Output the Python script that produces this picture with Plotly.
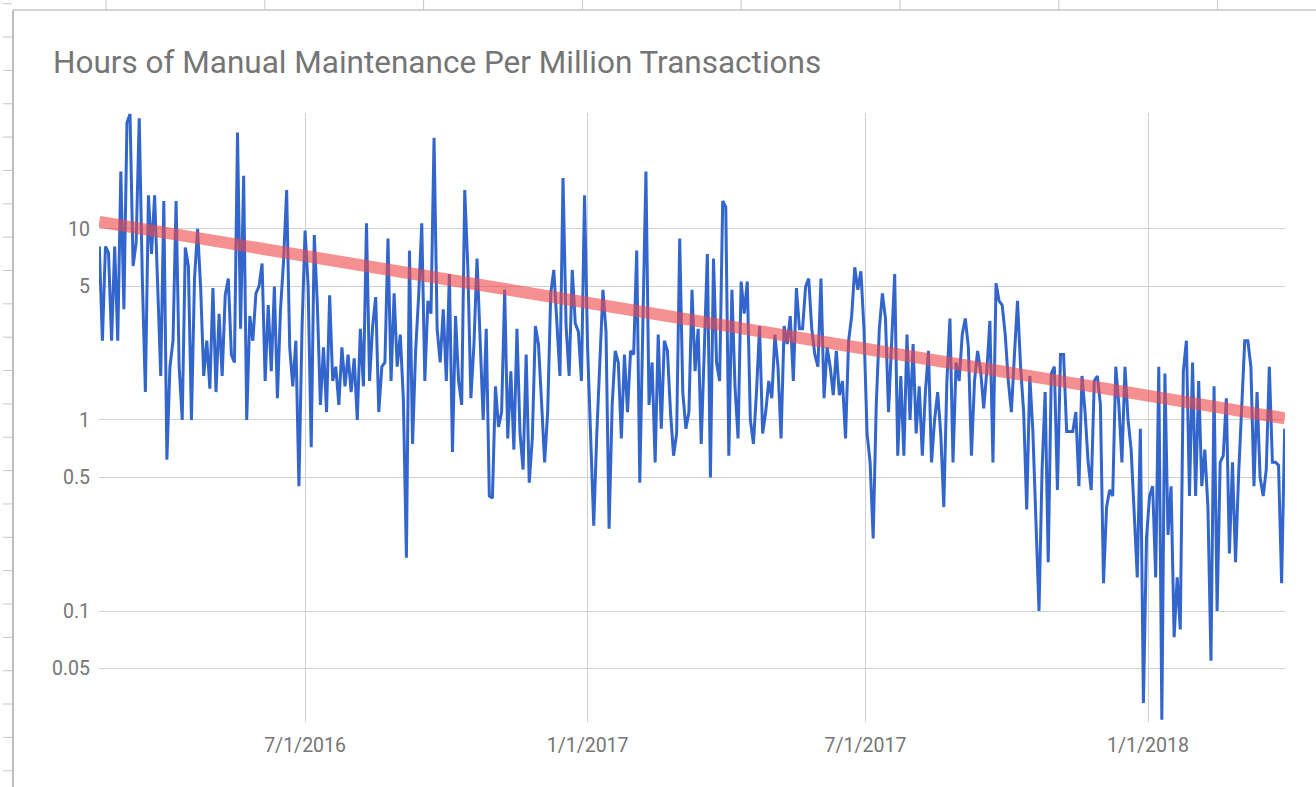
import pandas as pd
import plotly.graph_objects as go

# ---------------- data ----------------
start_date = "2016-02-18"
step = "2D"

hours_a = [8.1, 2.6, 8.1, 7.5, 2.6, 8.1, 2.6, 20, 3.8, 36, 40, 6.4, 8.5, 38, 5.5, 1.4, 15, 7.4, 15, 5.5,
           1.7, 14, 0.62, 1.9, 2.6, 14, 1.9, 1.0, 8.0, 6.4, 1.0, 5.5, 10, 4.9, 1.7, 2.6, 1.46, 4.9, 1.4, 3.6,
           1.7, 4.5]
hours_b = [5.5, 2.2, 2.0, 32, 3.0, 19, 1.0, 3.5, 2.6, 4.6, 5.0, 6.6, 1.6, 4.0, 1.8, 5.0, 1.3, 3.8, 6.8, 16,
           2.4, 1.5, 2.6, 0.45, 3.0, 9.8, 5.0, 0.72, 9.3, 4.0, 1.2, 2.4, 1.1, 4.5, 1.6, 1.9, 1.2, 2.4, 1.5, 2.2,
           1.4, 2.1, 1.0, 3.0]
hours_c = [1.5, 10.7, 1.6, 3.1, 4.4, 1.1, 1.9, 2.0, 8.9, 1.6, 4.6, 1.9, 2.8, 1.3, 0.19, 7.7, 0.75, 2.3, 4.5, 10.7,
           1.6, 4.2, 3.6, 30, 3.0, 2.0, 3.8, 1.6, 5.8, 0.68, 3.5, 1.6, 1.2, 16, 6.3, 1.3, 2.5, 7.0, 2.5, 1.0,
           3.0, 0.4]
hours_d = [0.39, 1.5, 0.92, 1.1, 4.8, 0.8, 1.8, 0.7, 3.0, 0.85, 0.55, 2.2, 0.47, 0.8, 3.1, 2.5, 1.25, 0.6, 1.1, 4.6,
           6.1, 3.3, 1.7, 18.5, 3.1, 1.7, 6.1, 3.2, 2.9, 1.6, 15, 2.4, 0.9, 0.28, 0.85, 2.2, 4.8, 2.9, 0.27, 1.2,
           2.3, 2.0, 0.8]
hours_e = [2.2, 1.1, 2.3, 2.2, 7.7, 0.47, 3.2, 20, 1.2, 2.0, 0.6, 2.8, 0.9, 2.6, 2.3, 1.1, 0.65, 0.85, 8.9, 1.4,
           0.9, 1.1, 4.8, 1.8, 3.0, 0.75, 2.3, 7.4, 0.5, 7.0, 2.0, 1.6, 14, 13, 0.65, 4.8, 1.5, 0.8, 5.3, 3.6,
           5.3, 1.0]
hours_f = [0.75, 1.4, 3.1, 0.85, 1.1, 1.6, 1.3, 2.8, 1.9, 0.8, 3.1, 2.5, 3.5, 1.6, 4.9, 3.0, 3.0, 5.0, 5.5, 3.0,
           2.2, 1.9, 5.5, 1.3, 2.4, 1.9, 1.35, 2.3, 1.35, 1.6, 0.8, 2.6, 3.5, 6.3, 4.8, 6.0, 3.0, 0.85, 0.6, 0.24,
           1.2, 3.0]
hours_g = [4.6, 3.4, 1.1, 2.5, 5.8, 0.65, 1.7, 0.65, 2.8, 1.0, 2.5, 0.85, 1.5, 0.65, 1.4, 2.3, 0.6, 1.0, 1.4, 0.85,
           0.35, 1.6, 3.4, 0.6, 2.0, 1.6, 2.8, 3.4, 2.4, 0.65, 1.6, 2.3, 1.8, 1.15, 1.8, 3.3, 0.6, 5.2, 4.2, 4.0,
           2.8, 1.6, 1.1]
hours_h = [2.2, 4.2, 1.9, 1.1, 0.34, 1.7, 0.87, 0.26, 0.1, 0.55, 1.4, 0.18, 1.75, 1.9, 0.43, 2.2, 2.2, 0.87, 0.87, 0.87,
           1.1, 0.45, 1.7, 1.1, 0.6, 0.43, 1.6, 1.7, 1.2, 0.14, 0.35, 0.43, 0.4, 1.9, 1.2, 0.6, 1.9, 1.0, 0.7, 0.3,
           0.15, 0.9]
hours_i = [0.033, 0.24, 0.4, 0.45, 0.15, 1.9, 0.027, 1.75, 0.25, 0.45, 0.073, 0.15, 0.08, 1.8, 2.6, 0.4, 2.0, 0.4,
           1.6, 0.45, 0.7, 0.35, 0.055, 1.5, 0.1, 0.6, 0.65, 1.3, 0.2, 0.6, 0.18, 0.52, 1.2, 2.6, 2.6, 1.9, 0.45,
           1.4, 0.5, 0.4, 0.55, 1.9, 0.6, 0.6, 0.58, 0.14, 0.9]

hours = hours_a + hours_b + hours_c + hours_d + hours_e + hours_f + hours_g + hours_h + hours_i
dates = pd.date_range(start_date, periods=len(hours), freq=step)

trend_dates = ["2016-02-18", "2018-03-31"]
trend_values = [10.9, 1.02]

ytick_vals = [0.05, 0.1, 0.5, 1, 5, 10]
ytick_text = ["0.05", "0.1", "0.5", "1", "5", "10"]
xtick_vals = ["2016-07-01", "2017-01-01", "2017-07-01", "2018-01-01"]
xtick_text = ["7/1/2016", "1/1/2017", "7/1/2017", "1/1/2018"]

title_text = "Hours of Manual Maintenance Per Million Transactions"

# ---------------- figure ----------------
W, H = 1316, 787
L, R, T, B = 99, 1285, 113, 722   # plot area in pixels


def px(x):
    return (x - L) / (R - L)


def py(y):
    return (B - y) / (B - T)


fig = go.Figure()
fig.add_trace(go.Scatter(x=dates, y=hours, mode="lines",
                         line=dict(color="#3366cc", width=3), hoverinfo="skip",
                         showlegend=False))
fig.add_trace(go.Scatter(x=trend_dates, y=trend_values, mode="lines",
                         line=dict(color="rgba(240,70,70,0.6)", width=12), hoverinfo="skip",
                         showlegend=False))

# spreadsheet frame decorations around the embedded chart
shapes = []
frame_col = "#c6c6c6"
shapes.append(dict(type="line", xref="paper", yref="paper", x0=px(13), x1=px(13), y0=py(10), y1=py(790),
                   line=dict(color="#a8a8a8", width=1.5)))
shapes.append(dict(type="line", xref="paper", yref="paper", x0=px(13), x1=px(1320), y0=py(10), y1=py(10),
                   line=dict(color=frame_col, width=1.5)))
for k in range(8):
    xc = 106 + 158.8 * k
    shapes.append(dict(type="line", xref="paper", yref="paper", x0=px(xc), x1=px(xc), y0=py(0), y1=py(10),
                       line=dict(color=frame_col, width=1)))
for k in range(24):
    yc = 3.7 + 33.35 * k
    shapes.append(dict(type="line", xref="paper", yref="paper", x0=px(3), x1=px(12), y0=py(yc), y1=py(yc),
                       line=dict(color=frame_col, width=1)))

fig.update_layout(
    width=W, height=H,
    margin=dict(l=L, r=W - R, t=T, b=H - B, pad=0),
    paper_bgcolor="white", plot_bgcolor="white",
    font=dict(family="Roboto, Arial, sans-serif", color="#757575"),
    title=dict(text=title_text, x=53 / W, xanchor="left", xref="container",
               y=1 - 62 / H, yanchor="middle", yref="container",
               font=dict(family="Roboto, Arial, sans-serif", size=31.5, color="#757575")),
    shapes=shapes,
)
fig.update_xaxes(type="date", range=["2016-02-17 19:00", "2018-03-31 05:00"],
                 tickmode="array", tickvals=xtick_vals, ticktext=xtick_text,
                 showgrid=True, gridcolor="#d0d0d0", gridwidth=1, zeroline=False, showline=False,
                 ticks="", tickfont=dict(size=19.5, color="#757575"), ticklabelstandoff=9)
fig.update_yaxes(type="log", range=[-1.581, 1.607],
                 tickmode="array", tickvals=ytick_vals, ticktext=ytick_text,
                 showgrid=True, gridcolor="#d0d0d0", gridwidth=1, zeroline=False, showline=False,
                 ticks="", tickfont=dict(size=19.5, color="#757575"), ticklabelstandoff=8)

fig.write_html("out.html", config={"displayModeBar": False},
               post_script="document.body.style.margin='0';")
